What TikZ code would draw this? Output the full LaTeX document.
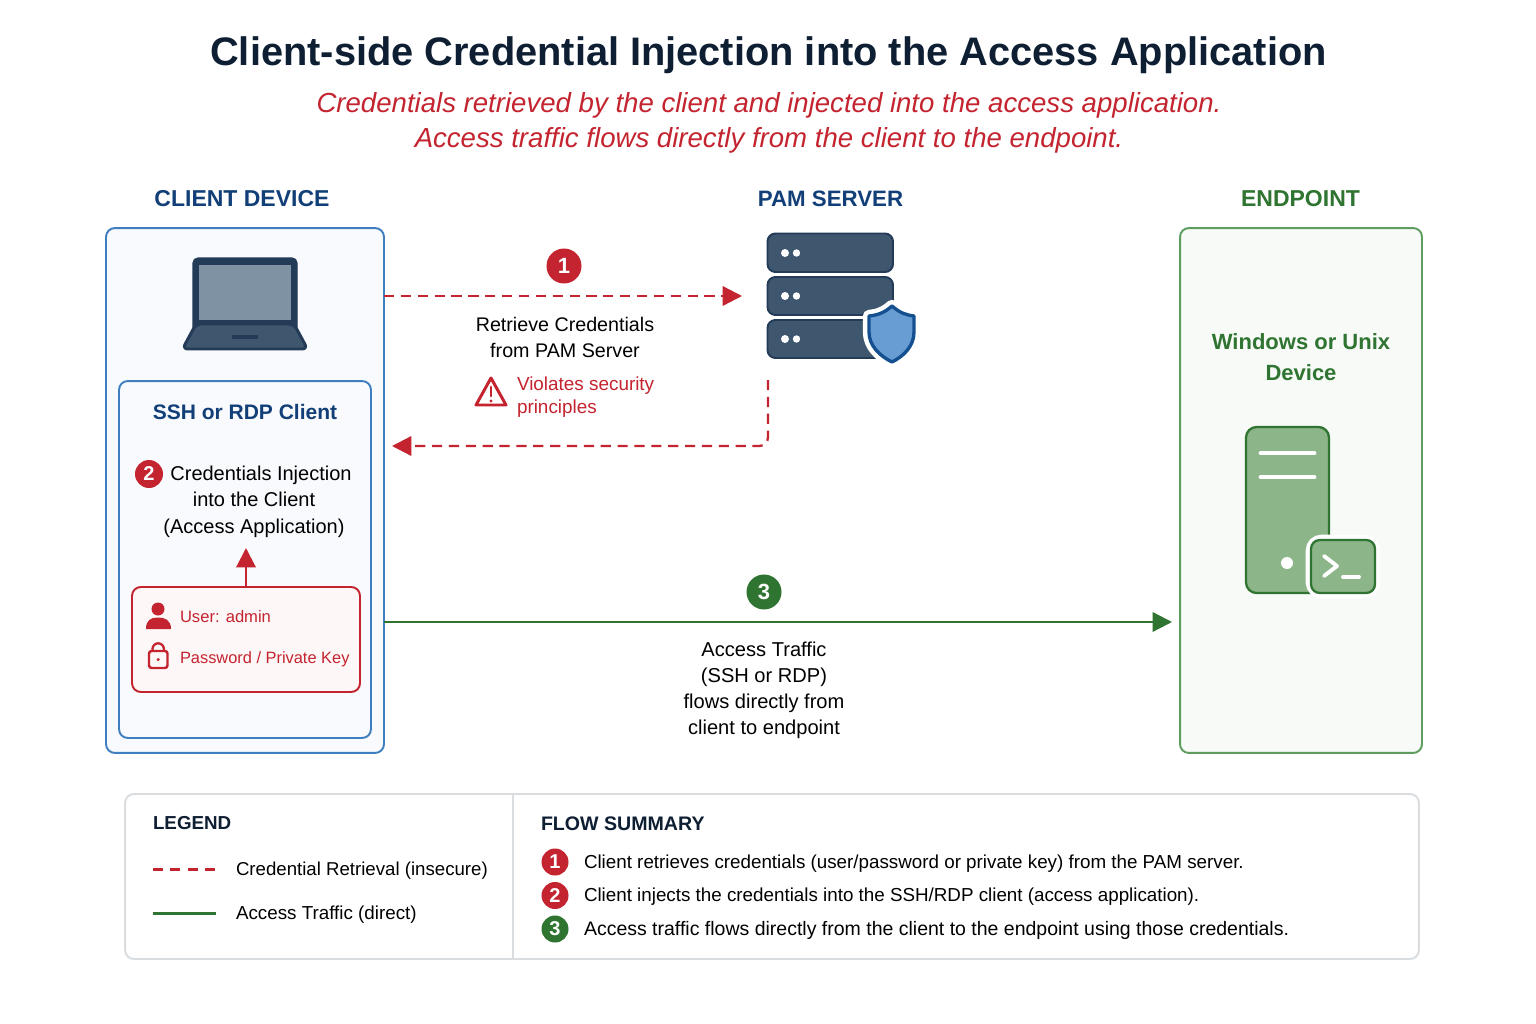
\documentclass[tikz,border=0pt]{standalone}
\usepackage{fontspec}
\setmainfont{Liberation Sans}
\usetikzlibrary{arrows.meta}
\newcommand{\pxfont}[2]{\fontsize{\fpeval{#1*0.569}}{\fpeval{#2*0.569}}\selectfont}
\definecolor{titleink}{HTML}{0F1F33}
\definecolor{navy}{HTML}{123F78}
\definecolor{clientline}{HTML}{3F7FBF}
\definecolor{clientfill}{HTML}{F8FAFD}
\definecolor{alert}{HTML}{C4242F}
\definecolor{alertfill}{HTML}{FDF7F7}
\definecolor{leaf}{HTML}{2F7430}
\definecolor{leafline}{HTML}{5F9D5F}
\definecolor{leaffill}{HTML}{F7FAF7}
\definecolor{leaficon}{HTML}{8DB58A}
\definecolor{slate}{HTML}{3F566F}
\definecolor{slatedark}{HTML}{243B58}
\definecolor{screen}{HTML}{7F92A3}
\definecolor{shield}{HTML}{689DD4}
\definecolor{shieldline}{HTML}{14508F}
\definecolor{panelline}{HTML}{DADDE0}
\begin{document}
\begin{tikzpicture}[x=0.02cm,y=-0.02cm]
\tikzstyle{every node}+=[inner sep=0pt,outer sep=0pt]
\tikzstyle{panel}=[draw,rectangle,rounded corners=5pt,line width=1.1pt]
\tikzstyle{badge}=[circle,text=white,font=\pxfont{20}{20}\bfseries]
\tikzstyle{head}=[font=\pxfont{23}{30}\bfseries]
\tikzstyle{body}=[align=center,text=black,font=\pxfont{19.7}{26}]
\tikzstyle{rowtext}=[anchor=west,text=black,font=\pxfont{18.8}{24}]
\tikzstyle{dashline}=[alert,line width=1.3pt,dash pattern=on 5.8pt off 3.8pt]
\tikzstyle{tip}=[-{Triangle[length=11pt,width=11pt]}]
\useasboundingbox (0,0) rectangle (1536,1024);
\fill [white] (0,0) rectangle (1536,1024);
\draw (768.5,55) node (title) [text=titleink,font=\pxfont{39.8}{46}\bfseries] {Client-side Credential Injection into the Access Application};
\draw (769,123) node (subtitle) [align=center,text=alert,font=\pxfont{27.6}{35}\itshape] {Credentials retrieved by the client and injected into the access application.\\Access traffic flows directly from the client to the endpoint.};
\draw (242,199) node (clienthead) [head,text=navy] {CLIENT DEVICE};
\draw (830.5,199) node (pamhead) [head,text=navy,font=\pxfont{22.3}{30}\bfseries] {PAM SERVER};
\draw (1300.5,199) node (endhead) [head,text=leaf] {ENDPOINT};
\draw (245,490.5) node (clientbox) [panel,draw=clientline,fill=clientfill,minimum width=5.56cm,minimum height=10.5cm] {};
\draw (245,559.5) node (appbox) [panel,draw=clientline,fill=clientfill,minimum width=5.04cm,minimum height=7.14cm] {};
\draw (246,639.5) node (credbox) [panel,draw=alert,fill=alertfill,minimum width=4.56cm,minimum height=2.1cm] {};
\draw (1301,490.5) node (endbox) [panel,draw=leafline,fill=leaffill,minimum width=4.84cm,minimum height=10.5cm] {};
\draw (772,876.5) node (footbox) [panel,draw=panelline,minimum width=25.88cm,minimum height=3.3cm] {};
\draw [panelline,line width=1.1pt] (footbox.north -| 513,0) -- (footbox.south -| 513,0);
\draw [slatedark,fill=slatedark,line width=0.8pt,rounded corners=3pt] (193,258) rectangle (297,332);
\fill [screen] (199,265) rectangle (291,320);
\draw [slatedark,fill=slate,line width=1.7pt,line join=round,rounded corners=3pt] (196,324) -- (294,324) -- (307.5,349) -- (182.5,349) -- cycle;
\fill [slatedark] (232,334.5) rectangle (258,338.5);
\draw [slatedark,fill=slate,line width=1.1pt,rounded corners=4.5pt] (767.5,233.5) rectangle (893,272);
\draw [slatedark,fill=slate,line width=1.1pt,rounded corners=4.5pt] (767.5,277) rectangle (893,315);
\draw [slatedark,fill=slate,line width=1.1pt,rounded corners=4.5pt] (767.5,320) rectangle (893,358);
\fill [white] (785,253) circle (4) (796.5,253) circle (3.7);
\fill [white] (785,296) circle (4) (796.5,296) circle (3.7);
\fill [white] (785,339) circle (4) (796.5,339) circle (3.7);
\draw [white,fill=white,line width=7pt,line join=round] (892,306) .. controls (900,313) and (906,315) .. (914,316) -- (914,332) .. controls (914,346) and (904,356) .. (892,362) .. controls (880,356) and (869,346) .. (869,332) -- (869,316) .. controls (878,315) and (884,313) .. (892,306) -- cycle;
\draw [shieldline,fill=shield,line width=1.9pt,line join=round] (892,306) .. controls (900,313) and (906,315) .. (914,316) -- (914,332) .. controls (914,346) and (904,356) .. (892,362) .. controls (880,356) and (869,346) .. (869,332) -- (869,316) .. controls (878,315) and (884,313) .. (892,306) -- cycle;
\draw [leaf,fill=leaficon,line width=1.3pt,rounded corners=6pt] (1246,427) rectangle (1329,593);
\draw [white,line width=2.8pt,line cap=round] (1261,453) -- (1314,453);
\draw [white,line width=2.8pt,line cap=round] (1261,477) -- (1314,477);
\fill [white] (1287,563) circle (6);
\draw [white,fill=white,line width=6pt,rounded corners=6pt] (1311,540) rectangle (1375,593);
\draw [leaf,fill=leaficon,line width=1.3pt,rounded corners=5pt] (1311,540) rectangle (1375,593);
\draw [white,line width=2.2pt,line cap=round,line join=round] (1324,556) -- (1337,566) -- (1324,576);
\draw [white,line width=2.2pt,line cap=round] (1343,577) -- (1359,577);
\draw (564,266) node (stepA) [badge,fill=alert,minimum size=0.7cm,font=\pxfont{22}{22}\bfseries] {1};
\coordinate (pamin) at (742,296);
\draw [dashline,tip] (clientbox.east |- pamin) -- (pamin);
\draw (565,337) node (retrieve) [body] {Retrieve Credentials\\from PAM Server};
\draw [alert,line width=1.7pt,line join=round] (491,378) -- (506,405) -- (476,405) -- cycle;
\draw [alert,line width=1.7pt,line cap=round] (491,387) -- (491,396);
\fill [alert] (491,401) circle (1.7);
\draw (517,397) node (violates) [anchor=west,align=left,text=alert,font=\pxfont{18.9}{23.5}] {Violates security\\principles};
\coordinate (pamout) at (768,380);
\coordinate (clientin) at (392,446);
\draw [dashline,tip,rounded corners=5pt] (pamout) |- (clientin);
\draw (245,411.5) node (apphead) [text=navy,font=\pxfont{21}{28}\bfseries] {SSH or RDP Client};
\draw (149,474) node (stepB) [badge,fill=alert,minimum size=0.56cm] {2};
\draw (254,501.5) node (inject) [align=center,text=black,font=\pxfont{20}{26.5}] {\hspace*{0.28cm}Credentials Injection\\into the Client\\(Access Application)};
\coordinate (injecttip) at (246,548);
\draw [alert,line width=1.2pt,tip] (credbox.north) -- (injecttip);
\fill [alert] (158,609) circle (6.5);
\fill [alert] (146,629) .. controls (146,620) and (151,617.5) .. (158,617.5) .. controls (165,617.5) and (171,620) .. (171,629) -- cycle;
\draw (180,617) node (user) [anchor=west,text=alert,font=\pxfont{16.6}{20}] {User: admin};
\draw [alert,line width=1.3pt] (152.5,652) -- (152.5,649) arc (180:360:5.7) -- (163.9,652);
\draw [alert,line width=1.4pt,rounded corners=1.5pt,fill=alertfill] (149,651) rectangle (167.5,668);
\fill [alert] (158.2,659.5) circle (1.7);
\draw (180,659.5) node (secret) [anchor=west,text=alert,font=\pxfont{16.4}{20}] {Password / Private Key};
\draw (764,592) node (stepC) [badge,fill=leaf,minimum size=0.7cm,font=\pxfont{22}{22}\bfseries] {3};
\coordinate (endin) at (1172,622);
\draw [leaf,line width=1.3pt,tip] (clientbox.east |- endin) -- (endin);
\draw (764,690) node (traffic) [body,font=\pxfont{20.1}{26}] {Access Traffic\\(SSH or RDP)\\flows directly from\\client to endpoint};
\draw (1301,357) node (endname) [align=center,text=leaf,font=\pxfont{22}{30.5}\bfseries] {Windows or Unix\\Device};
\draw (153,823.5) node (legendhead) [anchor=west,text=titleink,font=\pxfont{18.8}{24}\bfseries] {LEGEND};
\coordinate (lineAa) at (153,869.5);
\coordinate (lineAb) at (216,869.5);
\draw [alert,line width=1.2pt,dash pattern=on 5.6pt off 4.3pt] (lineAa) -- (lineAb);
\draw (236,871) node (legendA) [rowtext,font=\pxfont{18.65}{24}] {Credential Retrieval (insecure)};
\coordinate (lineBa) at (153,913.5);
\coordinate (lineBb) at (216,913.5);
\draw [leaf,line width=1.2pt] (lineBa) -- (lineBb);
\draw (236,915) node (legendB) [rowtext] {Access Traffic (direct)};
\draw (541,823.5) node (flowhead) [anchor=west,text=titleink,font=\pxfont{19.6}{24}\bfseries] {FLOW SUMMARY};
\draw (555,862) node (flowA) [badge,fill=alert,minimum size=0.54cm] {1};
\draw (584,864) node (flowtextA) [rowtext] {Client retrieves credentials (user/password or private key) from the PAM server.};
\draw (555,895.5) node (flowB) [badge,fill=alert,minimum size=0.54cm] {2};
\draw (584,897) node (flowtextB) [rowtext] {Client injects the credentials into the SSH/RDP client (access application).};
\draw (555,929) node (flowC) [badge,fill=leaf,minimum size=0.54cm] {3};
\draw (584,930.5) node (flowtextC) [rowtext,font=\pxfont{19.5}{24}] {Access traffic flows directly from the client to the endpoint using those credentials.};
\end{tikzpicture}
\end{document}
